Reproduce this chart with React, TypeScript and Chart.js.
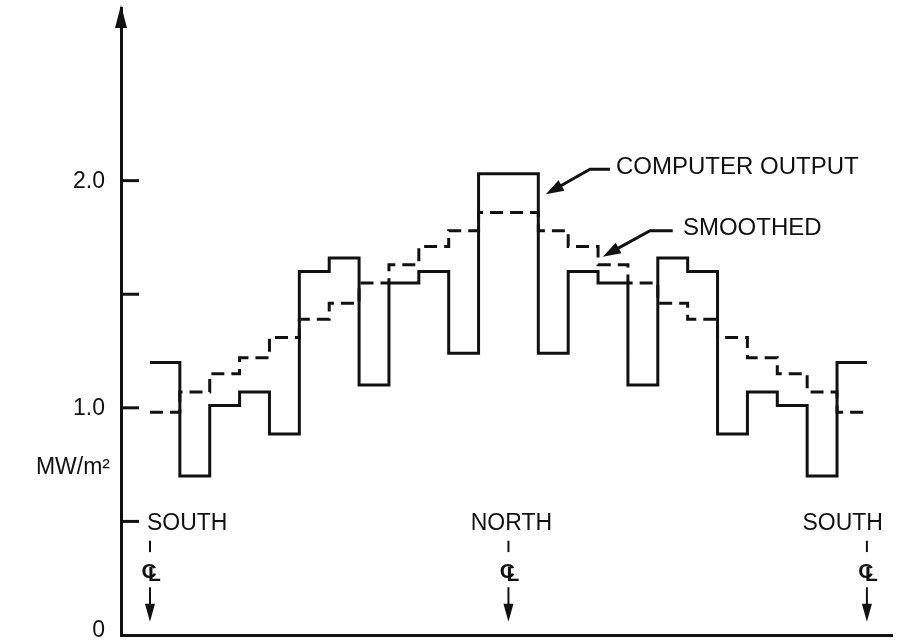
import { useEffect, useRef } from "react";
import { Chart, registerables } from "chart.js";

Chart.register(...registerables);

// Heat flux per channel, 24 channels from south centreline to south centreline
const computerOutput = [
  1.2, 0.7, 1.01, 1.07, 0.885, 1.6, 1.66, 1.1, 1.55, 1.6, 1.24, 2.03,
  2.03, 1.24, 1.6, 1.55, 1.1, 1.66, 1.6, 0.885, 1.07, 1.01, 0.7, 1.2,
];
const smoothed = [
  0.98, 1.07, 1.15, 1.22, 1.31, 1.39, 1.46, 1.55, 1.63, 1.71, 1.78, 1.86,
  1.86, 1.78, 1.71, 1.63, 1.55, 1.46, 1.39, 1.31, 1.22, 1.15, 1.07, 0.98,
];
const yTickValues = [0, 0.5, 1.0, 1.5, 2.0];
const yTickLabels = ["0", "", "1.0", "", "2.0"];
const unitLabel = "MW/m²";
const centerlineNames = ["SOUTH", "NORTH", "SOUTH"];
const centerlineChannels = [0, 12, 24];
const seriesNames = ["COMPUTER OUTPUT", "SMOOTHED"];

const FONT = '"Liberation Sans", Arial, sans-serif';
const INK = "#111";

// step series: one point per channel edge, last value repeated to close the step
const toSteps = (vals: number[]) =>
  vals.map((v, i) => ({ x: i, y: v })).concat([{ x: vals.length, y: vals[vals.length - 1] }]);

function arrowHead(ctx: CanvasRenderingContext2D, x1: number, y1: number, x2: number, y2: number, len: number, half: number) {
  const a = Math.atan2(y2 - y1, x2 - x1);
  const bx = x2 - len * Math.cos(a);
  const by = y2 - len * Math.sin(a);
  ctx.beginPath();
  ctx.moveTo(x2, y2);
  ctx.lineTo(bx + half * Math.sin(a), by - half * Math.cos(a));
  ctx.lineTo(bx - half * Math.sin(a), by + half * Math.cos(a));
  ctx.closePath();
  ctx.fill();
}

const decorations = {
  id: "decorations",
  afterDraw(chart: any) {
    const { ctx, chartArea, scales } = chart;
    const xs = scales.x;
    const ys = scales.y;
    const px = (v: number) => xs.getPixelForValue(v);
    const py = (v: number) => ys.getPixelForValue(v);
    ctx.save();
    ctx.setLineDash([]);
    ctx.fillStyle = INK;
    ctx.strokeStyle = INK;
    ctx.lineCap = "butt";

    // arrowhead on top of the vertical axis
    const ax = chartArea.left;
    ctx.beginPath();
    ctx.moveTo(ax, chartArea.top - 3);
    ctx.lineTo(ax - 6, chartArea.top + 20);
    ctx.lineTo(ax + 6, chartArea.top + 20);
    ctx.closePath();
    ctx.fill();

    // inward tick marks and their labels
    ctx.font = `23px ${FONT}`;
    ctx.textAlign = "right";
    ctx.textBaseline = "middle";
    yTickValues.forEach((v, i) => {
      const y = py(v);
      if (v !== 0) {
        ctx.lineWidth = 3;
        ctx.beginPath();
        ctx.moveTo(ax, y);
        ctx.lineTo(ax + 18, y);
        ctx.stroke();
      }
      if (yTickLabels[i]) ctx.fillText(yTickLabels[i], ax - 16, v === 0 ? y - 4 : y + 1);
    });

    // unit label
    ctx.fillText(unitLabel, ax - 11, py(0.735));

    // centreline markers
    centerlineChannels.forEach((c, i) => {
      const x = px(c);
      const last = i === centerlineChannels.length - 1;
      ctx.font = `23px ${FONT}`;
      ctx.textBaseline = "middle";
      ctx.textAlign = i === 0 ? "left" : last ? "right" : "center";
      const tx = i === 0 ? x - 3 : last ? x + 16 : x + 3;
      ctx.fillText(centerlineNames[i], tx, py(0.49));
      ctx.lineWidth = 2;
      ctx.beginPath();
      ctx.moveTo(x, py(0.415));
      ctx.lineTo(x, py(0.365));
      ctx.stroke();
      // centreline symbol: C overstruck with L
      ctx.font = `bold 21px ${FONT}`;
      ctx.textAlign = "center";
      ctx.fillText("C", x - 1, py(0.278));
      ctx.textAlign = "left";
      ctx.fillText("L", x - 2, py(0.262));
      ctx.lineWidth = 2;
      ctx.beginPath();
      ctx.moveTo(x, py(0.21));
      ctx.lineTo(x, py(0.1));
      ctx.stroke();
      arrowHead(ctx, x, py(0.2), x, py(0.058), 18, 5);
    });

    // callouts
    const callouts = [
      { tip: [13.25, 1.94], elbow: [14.73, 2.05], end: 15.4, text: 15.6, name: seriesNames[0] },
      { tip: [15.16, 1.665], elbow: [16.74, 1.78], end: 17.5, text: 17.84, name: seriesNames[1] },
    ];
    callouts.forEach((c) => {
      const tx = px(c.tip[0]);
      const ty = py(c.tip[1]);
      const ex = px(c.elbow[0]);
      const ey = py(c.elbow[1]);
      ctx.lineWidth = 3;
      ctx.beginPath();
      ctx.moveTo(px(c.end), ey);
      ctx.lineTo(ex, ey);
      ctx.lineTo(tx + (ex - tx) * 0.3, ty + (ey - ty) * 0.3);
      ctx.stroke();
      arrowHead(ctx, ex, ey, tx, ty, 18, 6);
      ctx.font = `24px ${FONT}`;
      ctx.textAlign = "left";
      ctx.textBaseline = "middle";
      ctx.fillText(c.name, px(c.text), ey - 2);
    });

    ctx.restore();
  },
};

export default function App() {
  const ref = useRef<HTMLCanvasElement>(null);

  useEffect(() => {
    if (!ref.current) return;
    const chart = new Chart(ref.current, {
      type: "line",
      data: {
        datasets: [
          {
            label: seriesNames[0],
            data: toSteps(computerOutput),
            stepped: "before",
            borderColor: INK,
            borderWidth: 3,
            pointRadius: 0,
            fill: false,
            borderJoinStyle: "miter",
          },
          {
            label: seriesNames[1],
            data: toSteps(smoothed),
            stepped: "before",
            borderColor: INK,
            borderWidth: 3,
            borderDash: [13, 7],
            pointRadius: 0,
            fill: false,
            borderJoinStyle: "miter",
          },
        ],
      },
      options: {
        animation: false,
        responsive: false,
        devicePixelRatio: 1,
        layout: { padding: { left: 121, right: 20, top: 8, bottom: 7 } },
        plugins: { legend: { display: false }, tooltip: { enabled: false }, title: { display: false } },
        scales: {
          x: {
            type: "linear",
            min: -0.97,
            max: 24.84,
            grid: { display: false, drawTicks: false },
            border: { display: true, color: INK, width: 3 },
            ticks: { display: false },
            afterFit: (s: any) => {
              s.height = 0;
            },
          },
          y: {
            type: "linear",
            min: 0,
            max: 2.76,
            grid: { display: false, drawTicks: false },
            border: { display: true, color: INK, width: 3 },
            ticks: { display: false },
            afterFit: (s: any) => {
              s.width = 0;
            },
          },
        },
      },
      plugins: [decorations],
    });
    return () => chart.destroy();
  }, []);

  return (
    <div style={{ position: "fixed", left: 0, top: 0, width: 912, height: 642, background: "#fff" }}>
      <canvas ref={ref} width={912} height={642} style={{ width: 912, height: 642, display: "block" }} />
    </div>
  );
}
